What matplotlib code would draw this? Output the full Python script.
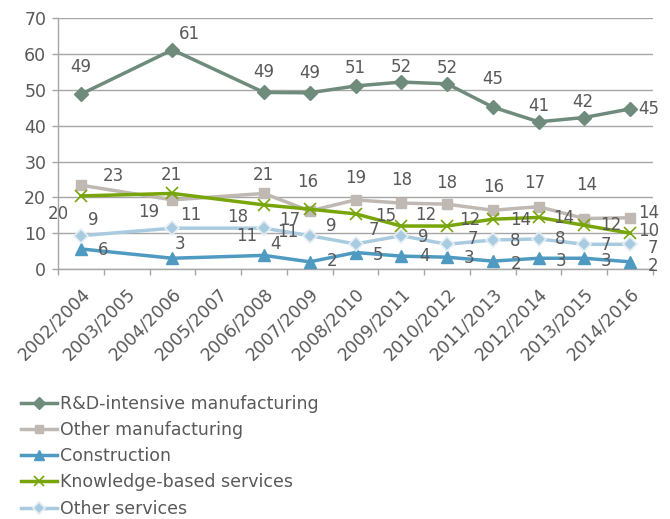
import matplotlib
matplotlib.use("Agg")
import matplotlib.pyplot as plt
import numpy as np

plt.rcParams['font.family'] = ['DejaVu Sans']

# ---- data -------------------------------------------------------------
periods = ["2002/2004", "2003/2005", "2004/2006", "2005/2007", "2006/2008",
           "2007/2009", "2008/2010", "2009/2011", "2010/2012", "2011/2013",
           "2012/2014", "2013/2015", "2014/2016"]
# survey waves that have observations (index into periods)
observed = [0, 2, 4, 5, 6, 7, 8, 9, 10, 11, 12]

rd_manufacturing = [48.8, 61.2, 49.3, 49.2, 51.1, 52.2, 51.7, 45.2, 41.1, 42.3, 44.7]
other_manufacturing = [23.4, 19.3, 21.1, 16.2, 19.3, 18.4, 18.1, 16.4, 17.4, 14.1, 14.3]
construction = [5.6, 3.0, 3.8, 2.0, 4.6, 3.6, 3.3, 2.2, 3.0, 3.0, 2.0]
knowledge_services = [20.4, 21.1, 17.9, 16.7, 15.4, 12.0, 12.0, 13.9, 14.4, 12.2, 10.0]
other_services = [9.3, 11.4, 11.4, 9.3, 7.0, 9.3, 6.9, 8.1, 8.4, 6.9, 6.9]

series_names = ["R&D-intensive manufacturing", "Other manufacturing",
                "Construction", "Knowledge-based services", "Other services"]

# ---- label placement (pixel offsets from each point) -------------------
rd_off = [(0, 27), (17, 16), (0, 20), (0, 20), (0, 18), (0, 15), (0, 16),
          (0, 28), (0, 16), (-2, 16), (19, 0)]
om_off = [(32, 9), (-24, -12), (-1, 18), (-2, 29), (0, 22), (0, 23), (0, 21),
          (1, 23), (-4, 24), (2, 34), (19, 5)]
con_off = [(22, -1), (8, 14), (12, 11), (22, 1), (23, -2), (23, 0), (22, -1),
           (23, -3), (22, -3), (22, -3), (23, -4)]
kbs_off = [(-23, -18), (-1, 18), (-26, -12), (-20, -11), (30, -2), (24, 11),
           (23, 6), (28, -1), (25, -1), (26, 0), (19, 2)]
os_off = [(12, 16), (18, 13), (-17, -8), (22, 10), (18, 14), (22, -1), (26, 5),
          (22, -1), (22, 0), (22, -1), (23, -4)]
# a second value label shown next to the 2006/2008 "Other services" point
os_extra = [(2, (24, -4))]

# ---- styling ----------------------------------------------------------
TEXT = "#595959"
GRID = "#A6A6A6"
LABEL_SIZE = 12
styles = [
    dict(color="#6E8B7B", marker="D", ms=7.5, mfc="#6E8B7B", mec="#6E8B7B", mew=1.0),
    dict(color="#BFB8B3", marker="s", ms=7.5, mfc="#BFB8B3", mec="#BFB8B3", mew=1.0),
    dict(color="#4E9AC0", marker="^", ms=9, mfc="#4E9AC0", mec="#4E9AC0", mew=1.0),
    dict(color="#78A50A", marker="x", ms=9, mfc="none", mec="#78A50A", mew=1.2),
    dict(color="#A9CBE0", marker="D", ms=7.5, mfc="#A9CBE0", mec="#E4EEF5", mew=1.2),
]

fig = plt.figure(figsize=(6.7, 5.19), dpi=100)
W, H = 670, 519
ax = fig.add_axes([58 / W, 1 - 269 / H, (653 - 58) / W, (269 - 18.3) / H])

all_series = [rd_manufacturing, other_manufacturing, construction,
              knowledge_services, other_services]
all_offsets = [rd_off, om_off, con_off, kbs_off, os_off]

for name, vals, st, offs in zip(series_names, all_series, styles, all_offsets):
    ax.plot(observed, vals, lw=2.5, label=name, solid_joinstyle="round",
            clip_on=False, zorder=3, **st)
    for xi, v, (dx, dy) in zip(observed, vals, offs):
        ax.annotate(f"{v:.0f}", (xi, v), xytext=(dx, dy),
                    textcoords="offset pixels", ha="center", va="center",
                    fontsize=LABEL_SIZE, color=TEXT, zorder=5)

for k, (dx, dy) in os_extra:
    ax.annotate(f"{other_services[k]:.0f}", (observed[k], other_services[k]),
                xytext=(dx, dy), textcoords="offset pixels", ha="center",
                va="center", fontsize=LABEL_SIZE, color=TEXT, zorder=5)

# axes
ax.set_xlim(-0.5, len(periods) - 0.5)
ax.set_ylim(0, 70)
ax.set_yticks(np.arange(0, 71, 10))
ax.yaxis.grid(True, color=GRID, lw=1.0)
ax.set_axisbelow(True)
for s in ("top", "right"):
    ax.spines[s].set_visible(False)
for s in ("left", "bottom"):
    ax.spines[s].set_color(GRID)
    ax.spines[s].set_linewidth(1.0)

ax.set_xticks(range(len(periods)))
ax.set_xticklabels(periods, rotation=45, ha="right", rotation_mode="anchor")
ax.set_xticks(np.arange(-0.5, len(periods), 1.0), minor=True)
ax.tick_params(axis="x", which="major", length=0, pad=11, labelsize=12.5,
               labelcolor=TEXT)
ax.tick_params(axis="x", which="minor", length=4.5, color=GRID, width=1.0)
ax.tick_params(axis="y", length=4.5, color=GRID, width=1.0, labelsize=12.5,
               labelcolor=TEXT, pad=4)

leg = fig.legend(loc="upper left", bbox_to_anchor=(21 / W, 1 - 395 / H),
                 frameon=False, fontsize=12.5, handlelength=2.1,
                 handletextpad=0.12, labelspacing=0.47, markerscale=0.75,
                 borderaxespad=0, borderpad=0)
for t in leg.get_texts():
    t.set_color(TEXT)

fig.savefig("out.png", dpi=100)
